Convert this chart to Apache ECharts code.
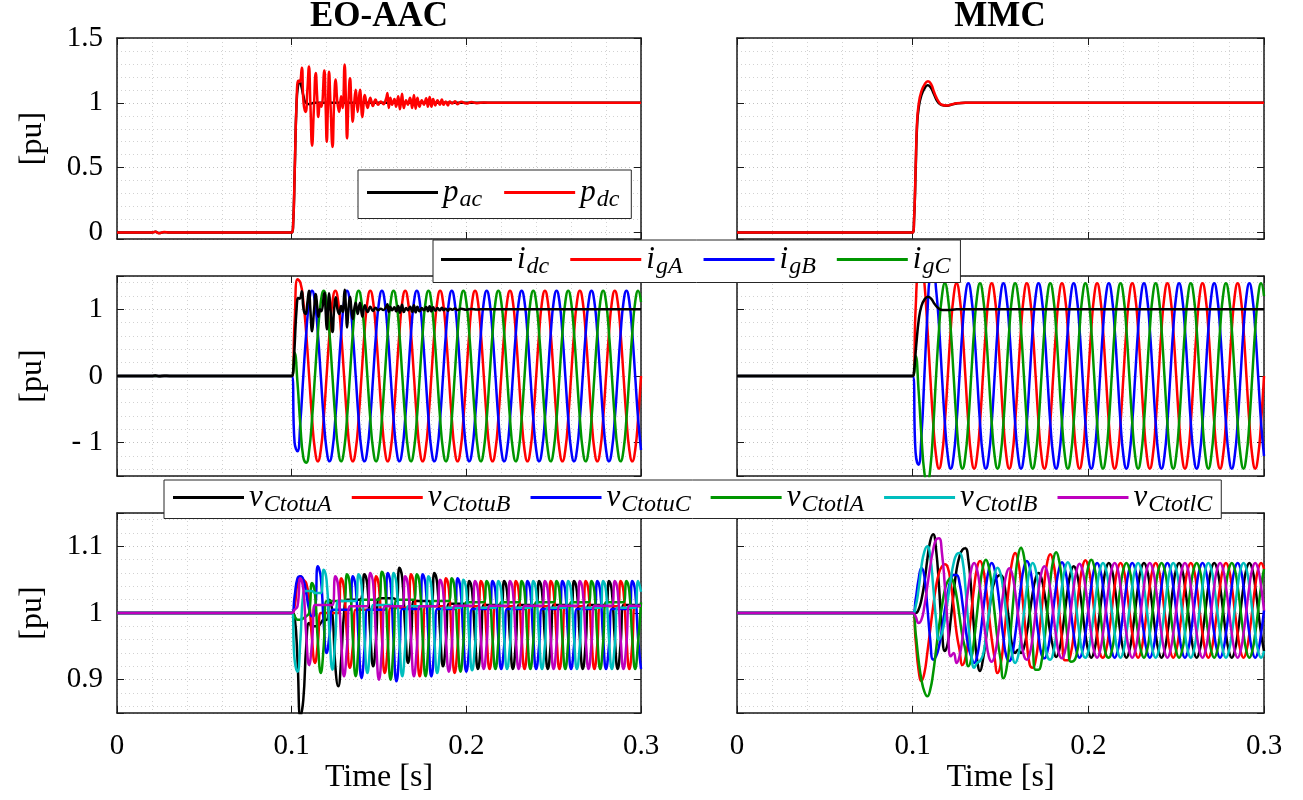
<!DOCTYPE html>
<html><head><meta charset="utf-8">
<script src="https://cdn.jsdelivr.net/npm/echarts@6/dist/echarts.min.js"></script>
<style>html,body{margin:0;padding:0;background:#fff}#c{width:1303px;height:800px}</style>
</head><body><div id="c"></div>
<script>
// ---------------- time grid (s) shared by the sampled traces ----------------
const T = [0,
0.1,0.10167,0.10333,0.105,0.10667,0.10833,
0.11,0.11167,0.11333,0.115,0.11667,0.11833,
0.12,0.12167,0.12333,0.125,0.12667,0.12833,
0.13,0.13167,0.13333,0.135,0.13667,0.13833,
0.14,0.14167,0.14333,0.145,0.14667,0.14833,
0.15,0.15167,0.15333,0.155,0.15667,0.15833,
0.16,0.16167,0.16333,0.165,0.16667,0.16833,
0.17,0.17167,0.17333,0.175,0.17667,0.17833,
0.18,0.18167,0.18333,0.185,0.18667,0.18833,
0.19,0.19167,0.19333,0.195,0.19667,0.19833,
0.2,0.20167,0.20333,0.205,0.20667,0.20833,
0.21,0.21167,0.21333,0.215,0.21667,0.21833,
0.22,0.22167,0.22333,0.225,0.22667,0.22833,
0.23,0.23167,0.23333,0.235,0.23667,0.23833,
0.24,0.24167,0.24333,0.245,0.24667,0.24833,
0.25,0.25167,0.25333,0.255,0.25667,0.25833,
0.26,0.26167,0.26333,0.265,0.26667,0.26833,
0.27,0.27167,0.27333,0.275,0.27667,0.27833,
0.28,0.28167,0.28333,0.285,0.28667,0.28833,
0.29,0.29167,0.29333,0.295,0.29667,0.29833,
0.3];

// ---------------- tick labels ----------------
const xTicks = [0, 0.1, 0.2, 0.3], xLabels = ['0', '0.1', '0.2', '0.3'];
const yTicksTop = [0, 0.5, 1, 1.5], yLabelsTop = ['0', '0.5', '1', '1.5'];
const yTicksMid = [-1, 0, 1], yLabelsMid = ['- 1', '0', '1'];
const yTicksBot = [0.9, 1, 1.1], yLabelsBot = ['0.9', '1', '1.1'];

// ---------------- row 1 : powers [t, pu] ----------------
const pacEO = [[0,0],[0.02,0],[0.022,0.005],[0.024,-0.004],[0.027,0.003],[0.03,0],[0.1,0],[0.1008,0.05],[0.1017,0.45],[0.1028,1.0],[0.1038,1.15],[0.1045,1.17],[0.1055,1.13],[0.1068,1.05],[0.108,1.0],[0.11,0.99],[0.113,1.0],[0.3,1.0]];
const pdcEO = [[0,0],[0.02,0],[0.022,0.006],[0.024,-0.005],[0.027,0.004],[0.03,0],[0.1,0],
[0.1008,0.05],[0.1017,0.45],[0.1028,1.0],[0.1038,1.17],[0.1046,1.16],[0.1058,1.27],[0.1068,1.0],[0.108,0.93],[0.109,1.1],[0.1099,1.28],[0.1107,1.0],[0.1117,0.67],[0.1127,0.95],[0.1138,1.23],[0.1146,1.05],[0.1153,0.89],[0.1162,1.0],[0.117,0.97],[0.1187,1.25],[0.1194,1.0],[0.1201,0.70],[0.1208,1.0],[0.1214,1.24],[0.1222,1.0],[0.1234,0.66],[0.1243,1.0],[0.1252,1.18],[0.1262,1.0],[0.1272,0.93],[0.1283,1.05],[0.1292,0.96],[0.1303,1.295],[0.1311,1.0],[0.1317,0.726],[0.1325,1.0],[0.1334,1.19],[0.1342,1.0],[0.135,0.855],[0.1358,1.0],[0.1367,1.10],[0.1378,0.93],[0.1391,1.10],[0.1405,0.89],[0.1419,1.06],[0.1435,0.96],[0.145,1.04],[0.1465,0.975],[0.148,1.025],[0.1495,0.985],[0.151,1.01],[0.1525,0.99],[0.154,1.03],[0.1548,1.075],[0.1556,0.96],[0.1565,1.04],[0.1575,0.985],[0.1588,1.03],[0.1598,0.97],[0.161,1.05],[0.162,0.95],[0.1632,1.07],[0.1642,0.96],[0.1655,1.02],[0.1665,0.985],[0.1678,1.04],[0.169,0.96],[0.17,1.06],[0.171,0.955],[0.172,1.04],[0.1732,0.97],[0.1745,1.02],[0.1757,0.985],[0.177,1.035],[0.178,0.97],[0.179,1.045],[0.18,0.97],[0.181,1.03],[0.1822,0.98],[0.1835,1.02],[0.1848,0.985],[0.186,1.025],[0.187,0.985],[0.1882,1.01],[0.1895,0.98],[0.1905,1.01],[0.192,0.995],[0.1935,1.012],[0.195,0.99],[0.197,1.008],[0.2,0.995],[0.203,1.006],[0.206,0.997],[0.21,1.003],[0.215,1.0],[0.3,1.0]];
const pacMMC = [[0,0],[0.1,0],[0.1008,0.1],[0.1017,0.48],[0.1025,0.82],[0.1035,0.97],[0.105,1.06],[0.1067,1.11],[0.1085,1.135],[0.1102,1.12],[0.112,1.07],[0.1135,1.025],[0.115,0.995],[0.1167,0.982],[0.119,0.977],[0.122,0.985],[0.125,0.995],[0.13,1.0],[0.3,1.0]];
const pdcMMC = [[0,0],[0.1,0],[0.1008,0.1],[0.1017,0.5],[0.1025,0.85],[0.1035,1.0],[0.105,1.09],[0.1067,1.14],[0.1087,1.167],[0.1105,1.145],[0.112,1.09],[0.1135,1.04],[0.115,1.005],[0.1167,0.985],[0.1194,0.979],[0.122,0.987],[0.125,0.996],[0.13,1.0],[0.3,1.0]];

// ---------------- row 2 : currents ----------------
const idcEO = pdcEO; // i_dc traces the same curve as p_dc in pu
const idcMMC = [[0,0],[0.1,0],[0.1008,0.08],[0.102,0.45],[0.1035,0.85],[0.105,1.05],[0.1068,1.15],[0.1087,1.19],[0.1105,1.16],[0.1125,1.08],[0.1145,1.02],[0.117,0.99],[0.12,0.99],[0.125,1.0],[0.3,1.0]];
const igA_EO = [0,
0,0.8,1.45,1.4,1.12,0.64,0,-0.64,-1.11,-1.28,-1.11,-0.64,
0,0.64,1.11,1.28,1.11,0.64,0,-0.64,-1.11,-1.28,-1.11,-0.64,
0,0.64,1.11,1.28,1.11,0.64,0,-0.64,-1.11,-1.28,-1.11,-0.64,
0,0.64,1.11,1.28,1.11,0.64,0,-0.64,-1.11,-1.28,-1.11,-0.64,
0,0.64,1.11,1.28,1.11,0.64,0,-0.64,-1.11,-1.28,-1.11,-0.64,
0,0.64,1.11,1.28,1.11,0.64,0,-0.64,-1.11,-1.28,-1.11,-0.64,
0,0.64,1.11,1.28,1.11,0.64,0,-0.64,-1.11,-1.28,-1.11,-0.64,
0,0.64,1.11,1.28,1.11,0.64,0,-0.64,-1.11,-1.28,-1.11,-0.64,
0,0.64,1.11,1.28,1.11,0.64,0,-0.64,-1.11,-1.28,-1.11,-0.64,
0,0.64,1.11,1.28,1.11,0.64,0,-0.64,-1.11,-1.28,-1.11,-0.64,
0];
const igB_EO = [0,
0,-1.0,-1.13,-0.68,0,0.64,1.11,1.28,1.11,0.64,0,-0.64,
-1.11,-1.28,-1.11,-0.64,0,0.64,1.11,1.28,1.11,0.64,0,-0.64,
-1.11,-1.28,-1.11,-0.64,0,0.64,1.11,1.28,1.11,0.64,0,-0.64,
-1.11,-1.28,-1.11,-0.64,0,0.64,1.11,1.28,1.11,0.64,0,-0.64,
-1.11,-1.28,-1.11,-0.64,0,0.64,1.11,1.28,1.11,0.64,0,-0.64,
-1.11,-1.28,-1.11,-0.64,0,0.64,1.11,1.28,1.11,0.64,0,-0.64,
-1.11,-1.28,-1.11,-0.64,0,0.64,1.11,1.28,1.11,0.64,0,-0.64,
-1.11,-1.28,-1.11,-0.64,0,0.64,1.11,1.28,1.11,0.64,0,-0.64,
-1.11,-1.28,-1.11,-0.64,0,0.64,1.11,1.28,1.11,0.64,0,-0.64,
-1.11,-1.28,-1.11,-0.64,0,0.64,1.11,1.28,1.11,0.64,0,-0.64,
-1.11];
const igC_EO = [0,
0,0.35,-0.1,-0.75,-1.22,-1.3,-1.12,-0.64,0,0.64,1.11,1.28,
1.11,0.64,0,-0.64,-1.11,-1.28,-1.11,-0.64,0,0.64,1.11,1.28,
1.11,0.64,0,-0.64,-1.11,-1.28,-1.11,-0.64,0,0.64,1.11,1.28,
1.11,0.64,0,-0.64,-1.11,-1.28,-1.11,-0.64,0,0.64,1.11,1.28,
1.11,0.64,0,-0.64,-1.11,-1.28,-1.11,-0.64,0,0.64,1.11,1.28,
1.11,0.64,0,-0.64,-1.11,-1.28,-1.11,-0.64,0,0.64,1.11,1.28,
1.11,0.64,0,-0.64,-1.11,-1.28,-1.11,-0.64,0,0.64,1.11,1.28,
1.11,0.64,0,-0.64,-1.11,-1.28,-1.11,-0.64,0,0.64,1.11,1.28,
1.11,0.64,0,-0.64,-1.11,-1.28,-1.11,-0.64,0,0.64,1.11,1.28,
1.11,0.64,0,-0.64,-1.11,-1.28,-1.11,-0.64,0,0.64,1.11,1.28,
1.11];
const igA_MMC = [0,
0,1.0,1.7,1.75,1.4,0.75,0,-0.7,-1.2,-1.39,-1.2,-0.7,
0,0.7,1.2,1.39,1.2,0.7,0,-0.7,-1.2,-1.39,-1.2,-0.7,
0,0.7,1.2,1.39,1.2,0.7,0,-0.7,-1.2,-1.39,-1.2,-0.7,
0,0.7,1.2,1.39,1.2,0.7,0,-0.7,-1.2,-1.39,-1.2,-0.7,
0,0.7,1.2,1.39,1.2,0.7,0,-0.7,-1.2,-1.39,-1.2,-0.7,
0,0.7,1.2,1.39,1.2,0.7,0,-0.7,-1.2,-1.39,-1.2,-0.7,
0,0.7,1.2,1.39,1.2,0.7,0,-0.7,-1.2,-1.39,-1.2,-0.7,
0,0.7,1.2,1.39,1.2,0.7,0,-0.7,-1.2,-1.39,-1.2,-0.7,
0,0.7,1.2,1.39,1.2,0.7,0,-0.7,-1.2,-1.39,-1.2,-0.7,
0,0.7,1.2,1.39,1.2,0.7,0,-0.7,-1.2,-1.39,-1.2,-0.7,
0];
const igB_MMC = [0,
0,-1.15,-1.33,-0.9,0,0.9,1.55,1.6,1.3,0.75,0,-0.7,
-1.2,-1.39,-1.2,-0.7,0,0.7,1.2,1.39,1.2,0.7,0,-0.7,
-1.2,-1.39,-1.2,-0.7,0,0.7,1.2,1.39,1.2,0.7,0,-0.7,
-1.2,-1.39,-1.2,-0.7,0,0.7,1.2,1.39,1.2,0.7,0,-0.7,
-1.2,-1.39,-1.2,-0.7,0,0.7,1.2,1.39,1.2,0.7,0,-0.7,
-1.2,-1.39,-1.2,-0.7,0,0.7,1.2,1.39,1.2,0.7,0,-0.7,
-1.2,-1.39,-1.2,-0.7,0,0.7,1.2,1.39,1.2,0.7,0,-0.7,
-1.2,-1.39,-1.2,-0.7,0,0.7,1.2,1.39,1.2,0.7,0,-0.7,
-1.2,-1.39,-1.2,-0.7,0,0.7,1.2,1.39,1.2,0.7,0,-0.7,
-1.2,-1.39,-1.2,-0.7,0,0.7,1.2,1.39,1.2,0.7,0,-0.7,
-1.2];
const igC_MMC = [0,
0,0.3,-0.2,-0.9,-1.45,-1.62,-1.4,-0.8,0,0.7,1.2,1.39,
1.2,0.7,0,-0.7,-1.2,-1.39,-1.2,-0.7,0,0.7,1.2,1.39,
1.2,0.7,0,-0.7,-1.2,-1.39,-1.2,-0.7,0,0.7,1.2,1.39,
1.2,0.7,0,-0.7,-1.2,-1.39,-1.2,-0.7,0,0.7,1.2,1.39,
1.2,0.7,0,-0.7,-1.2,-1.39,-1.2,-0.7,0,0.7,1.2,1.39,
1.2,0.7,0,-0.7,-1.2,-1.39,-1.2,-0.7,0,0.7,1.2,1.39,
1.2,0.7,0,-0.7,-1.2,-1.39,-1.2,-0.7,0,0.7,1.2,1.39,
1.2,0.7,0,-0.7,-1.2,-1.39,-1.2,-0.7,0,0.7,1.2,1.39,
1.2,0.7,0,-0.7,-1.2,-1.39,-1.2,-0.7,0,0.7,1.2,1.39,
1.2,0.7,0,-0.7,-1.2,-1.39,-1.2,-0.7,0,0.7,1.2,1.39,
1.2];

// ---------------- row 3 : arm capacitor voltages, EO-AAC ----------------
const vuA_EO = [1.0,
1.0,0.995,0.93,0.845,0.87,0.95,0.985,0.98,0.98,0.98,0.985,0.99,
0.99,1.02,1.0,0.92,0.89,0.93,1.0,1.02,1.02,1.02,1.02,1.02,
1.022,1.058,1.042,0.969,0.92,0.961,1.022,1.022,1.022,1.022,1.022,1.022,
1.018,1.068,1.052,0.977,0.925,0.962,1.018,1.018,1.018,1.018,1.018,1.018,
1.014,1.06,1.044,0.97,0.92,0.957,1.014,1.014,1.014,1.014,1.014,1.014,
1.012,1.048,1.032,0.962,0.916,0.954,1.012,1.012,1.012,1.012,1.012,1.012,
1.012,1.048,1.032,0.962,0.916,0.954,1.012,1.012,1.012,1.012,1.012,1.012,
1.012,1.048,1.032,0.962,0.916,0.954,1.012,1.012,1.012,1.012,1.012,1.012,
1.012,1.048,1.032,0.962,0.916,0.954,1.012,1.012,1.012,1.012,1.012,1.012,
1.012,1.048,1.032,0.962,0.916,0.954,1.012,1.012,1.012,1.012,1.012,1.012,
1.012];
const vuB_EO = [1.0,
1.0,1.01,1.045,1.055,
1.05,1.045,1.02,0.96,0.925,0.955,1.0,1.0,1.0,1.0,1.0,1.0,
1.0,1.052,1.036,0.965,0.918,0.949,1.005,1.005,1.005,1.005,1.005,1.005,
1.005,1.055,1.039,0.963,0.91,0.948,1.008,1.008,1.008,1.008,1.008,1.008,
1.008,1.058,1.042,0.962,0.905,0.947,1.01,1.01,1.01,1.01,1.01,1.01,
1.01,1.052,1.036,0.961,0.91,0.95,1.01,1.01,1.01,1.01,1.01,1.01,
1.01,1.048,1.032,0.962,0.916,0.953,1.01,1.01,1.01,1.01,1.01,1.01,
1.01,1.048,1.032,0.962,0.916,0.953,1.01,1.01,1.01,1.01,1.01,1.01,
1.01,1.048,1.032,0.962,0.916,0.953,1.01,1.01,1.01,1.01,1.01,1.01,
1.01,1.048,1.032,0.962,0.916,0.953,1.01,1.01,1.01,1.01,1.01,1.01,
1.01,1.048,1.032,0.962,0.916,0.953,1.01,1.01,1.01];
const vuC_EO = [1.0,
1.0,1.025,1.052,1.055,1.05,1.03,1.005,0.995,
1.0,1.07,1.054,0.985,0.94,0.967,1.005,1.005,1.005,1.005,1.005,1.005,
1.005,1.055,1.039,0.959,0.9025,0.944,1.005,1.005,1.005,1.005,1.005,1.005,
1.005,1.06,1.044,0.959,0.8975,0.941,1.006,1.006,1.006,1.006,1.006,1.006,
1.006,1.058,1.042,0.962,0.905,0.946,1.006,1.006,1.006,1.006,1.006,1.006,
1.006,1.052,1.036,0.962,0.912,0.949,1.006,1.006,1.006,1.006,1.006,1.006,
1.006,1.048,1.032,0.962,0.916,0.951,1.006,1.006,1.006,1.006,1.006,1.006,
1.006,1.048,1.032,0.962,0.916,0.951,1.006,1.006,1.006,1.006,1.006,1.006,
1.006,1.048,1.032,0.962,0.916,0.951,1.006,1.006,1.006,1.006,1.006,1.006,
1.006,1.048,1.032,0.962,0.916,0.951,1.006,1.006,1.006,1.006,1.006,1.006,
1.006,1.048,1.032,0.962,0.916];
const vlA_EO = [1.0,
1.0,0.995,0.99,0.99,0.992,0.995,
1.0,1.045,1.029,0.957,0.91,0.95,1.018,1.018,1.018,1.018,1.018,1.018,
1.018,1.058,1.042,0.962,0.905,0.952,1.02,1.02,1.02,1.02,1.02,1.02,
1.02,1.062,1.046,0.961,0.9,0.95,1.02,1.02,1.02,1.02,1.02,1.02,
1.02,1.058,1.042,0.962,0.905,0.952,1.018,1.018,1.018,1.018,1.018,1.018,
1.018,1.052,1.036,0.962,0.912,0.955,1.016,1.016,1.016,1.016,1.016,1.016,
1.016,1.048,1.032,0.962,0.916,0.956,1.016,1.016,1.016,1.016,1.016,1.016,
1.016,1.048,1.032,0.962,0.916,0.956,1.016,1.016,1.016,1.016,1.016,1.016,
1.016,1.048,1.032,0.962,0.916,0.956,1.016,1.016,1.016,1.016,1.016,1.016,
1.016,1.048,1.032,0.962,0.916,0.956,1.016,1.016,1.016,1.016,1.016,1.016,
1.016,1.048,1.032,0.962,0.916,0.956,1.016];
const vlB_EO = [1.0,
1.0,0.93,0.912,0.96,1.03,1.033,1.033,1.033,1.03,1.03,
1.03,1.065,1.049,0.97,0.915,0.962,1.018,1.018,1.018,1.018,1.018,1.018,
1.018,1.058,1.042,0.964,0.91,0.954,1.012,1.012,1.012,1.012,1.012,1.012,
1.012,1.06,1.044,0.963,0.905,0.949,1.01,1.01,1.01,1.01,1.01,1.01,
1.01,1.055,1.039,0.963,0.91,0.95,1.008,1.008,1.008,1.008,1.008,1.008,
1.008,1.05,1.034,0.962,0.914,0.951,1.008,1.008,1.008,1.008,1.008,1.008,
1.008,1.048,1.032,0.962,0.916,0.952,1.008,1.008,1.008,1.008,1.008,1.008,
1.008,1.048,1.032,0.962,0.916,0.952,1.008,1.008,1.008,1.008,1.008,1.008,
1.008,1.048,1.032,0.962,0.916,0.952,1.008,1.008,1.008,1.008,1.008,1.008,
1.008,1.048,1.032,0.962,0.916,0.952,1.008,1.008,1.008,1.008,1.008,1.008,
1.008,1.048,1.032];
const vlC_EO = [1.0,
1.0,1.005,
1.01,1.052,1.036,0.967,0.922,0.956,1.012,1.012,1.012,1.012,1.012,1.012,
1.012,1.055,1.039,0.96,0.905,0.949,1.01,1.01,1.01,1.01,1.01,1.01,
1.01,1.06,1.044,0.96,0.9,0.945,1.01,1.01,1.01,1.01,1.01,1.01,
1.01,1.055,1.039,0.96,0.905,0.948,1.01,1.01,1.01,1.01,1.01,1.01,
1.011,1.05,1.034,0.961,0.912,0.951,1.011,1.011,1.011,1.011,1.011,1.011,
1.011,1.048,1.032,0.962,0.916,0.954,1.011,1.011,1.011,1.011,1.011,1.011,
1.011,1.048,1.032,0.962,0.916,0.954,1.011,1.011,1.011,1.011,1.011,1.011,
1.011,1.048,1.032,0.962,0.916,0.954,1.011,1.011,1.011,1.011,1.011,1.011,
1.011,1.048,1.032,0.962,0.916,0.954,1.011,1.011,1.011,1.011,1.011,1.011,
1.011,1.048,1.032,0.962,0.916,0.954,1.011,1.011,1.011,1.011,1.011];

// ---------------- row 3 : arm capacitor voltages, MMC ----------------
const vuA_MMC = [1.0,
1.0,
1.0,1.005,1.02,1.045,1.08,1.108,1.118,1.095,1.04,0.975,0.943,0.955,
0.99,1.03,1.065,1.085,1.095,1.097,1.08,1.035,0.975,0.93,0.913,0.93,
0.96,0.995,1.03,1.048,1.055,1.057,1.05,1.02,0.985,0.95,0.94,0.945,
0.94,0.948,0.97,1.0,1.03,1.052,1.06,1.052,1.03,1.0,0.97,0.948,
0.934,0.943,0.968,1.002,1.036,1.061,1.07,1.061,1.036,1.002,0.968,0.943,
0.933,0.943,0.969,1.004,1.04,1.066,1.075,1.066,1.04,1.004,0.969,0.943,
0.933,0.943,0.969,1.004,1.04,1.066,1.075,1.066,1.04,1.004,0.969,0.943,
0.933,0.943,0.969,1.004,1.04,1.066,1.075,1.066,1.04,1.004,0.969,0.943,
0.933,0.943,0.969,1.004,1.04,1.066,1.075,1.066,1.04,1.004,0.969,0.943,
0.933,0.943,0.969,1.004,1.04,1.066,1.075,1.066,1.04,1.004,0.969,0.943];
const vuB_MMC = [1.0,
1.0,0.96,0.915,0.898,0.91,
0.94,0.975,1.01,1.04,1.06,1.07,1.073,1.068,1.045,1.01,0.97,0.945,
0.922,0.932,0.961,1.0,1.039,1.068,1.078,1.068,1.039,1.0,0.961,0.932,
0.91,0.922,0.955,1.0,1.045,1.078,1.09,1.078,1.045,1.0,0.955,0.922,
0.918,0.929,0.961,1.003,1.046,1.077,1.088,1.077,1.046,1.003,0.961,0.929,
0.929,0.939,0.967,1.004,1.042,1.069,1.079,1.069,1.042,1.004,0.967,0.939,
0.933,0.943,0.969,1.004,1.04,1.066,1.075,1.066,1.04,1.004,0.969,0.943,
0.933,0.943,0.969,1.004,1.04,1.066,1.075,1.066,1.04,1.004,0.969,0.943,
0.933,0.943,0.969,1.004,1.04,1.066,1.075,1.066,1.04,1.004,0.969,0.943,
0.933,0.943,0.969,1.004,1.04,1.066,1.075,1.066,1.04,1.004,0.969,0.943,
0.933,0.943,0.969,1.004,1.04,1.066,1.075,1.066];
const vuC_MMC = [1.0,
1.0,1.02,1.05,1.0675,1.055,1.01,0.96,0.93,0.935,
0.95,0.975,1.005,1.03,1.05,1.057,1.057,1.045,1.015,0.98,0.95,0.935,
0.925,0.935,0.9625,1.0,1.0375,1.065,1.075,1.065,1.0375,1.0,0.9625,0.935,
0.928,0.938,0.966,1.003,1.041,1.068,1.078,1.068,1.041,1.003,0.966,0.938,
0.932,0.942,0.968,1.004,1.04,1.066,1.076,1.066,1.04,1.004,0.968,0.942,
0.933,0.943,0.969,1.004,1.04,1.066,1.075,1.066,1.04,1.004,0.969,0.943,
0.933,0.943,0.969,1.004,1.04,1.066,1.075,1.066,1.04,1.004,0.969,0.943,
0.933,0.943,0.969,1.004,1.04,1.066,1.075,1.066,1.04,1.004,0.969,0.943,
0.933,0.943,0.969,1.004,1.04,1.066,1.075,1.066,1.04,1.004,0.969,0.943,
0.933,0.943,0.969,1.004,1.04,1.066,1.075,1.066,1.04,1.004,0.969,0.943,
0.933,0.943,0.969,1.004];
const vlA_MMC = [1.0,
1.0,0.97,0.93,0.9,0.882,0.875,0.885,
0.91,0.945,0.98,1.01,1.035,1.048,1.052,1.045,1.025,0.995,0.965,0.945,
0.92,0.931,0.96,1.0,1.04,1.069,1.08,1.069,1.04,1.0,0.96,0.931,
0.902,0.915,0.951,1.0,1.049,1.085,1.098,1.085,1.049,1.0,0.951,0.915,
0.915,0.927,0.959,1.003,1.047,1.079,1.091,1.079,1.047,1.003,0.959,0.927,
0.928,0.938,0.966,1.004,1.042,1.07,1.08,1.07,1.042,1.004,0.966,0.938,
0.933,0.943,0.969,1.004,1.04,1.066,1.075,1.066,1.04,1.004,0.969,0.943,
0.933,0.943,0.969,1.004,1.04,1.066,1.075,1.066,1.04,1.004,0.969,0.943,
0.933,0.943,0.969,1.004,1.04,1.066,1.075,1.066,1.04,1.004,0.969,0.943,
0.933,0.943,0.969,1.004,1.04,1.066,1.075,1.066,1.04,1.004,0.969,0.943,
0.933,0.943,0.969,1.004,1.04,1.066];
const vlB_MMC = [1.0,
1.0,1.01,1.035,1.07,1.092,1.1,1.085,1.04,0.99,0.96,0.97,
0.99,1.02,1.05,1.075,1.088,1.09,1.08,1.04,0.985,0.94,0.918,0.925,
0.928,0.937,0.963,0.998,1.033,1.059,1.068,1.059,1.033,0.998,0.963,0.937,
0.925,0.935,0.9625,1.0,1.0375,1.065,1.075,1.065,1.0375,1.0,0.9625,0.935,
0.93,0.94,0.967,1.003,1.04,1.066,1.076,1.066,1.04,1.003,0.967,0.94,
0.933,0.943,0.969,1.004,1.04,1.066,1.075,1.066,1.04,1.004,0.969,0.943,
0.933,0.943,0.969,1.004,1.04,1.066,1.075,1.066,1.04,1.004,0.969,0.943,
0.933,0.943,0.969,1.004,1.04,1.066,1.075,1.066,1.04,1.004,0.969,0.943,
0.933,0.943,0.969,1.004,1.04,1.066,1.075,1.066,1.04,1.004,0.969,0.943,
0.933,0.943,0.969,1.004,1.04,1.066,1.075,1.066,1.04,1.004,0.969,0.943,
0.933,0.943];
const vlC_MMC = [1.0,
1.0,0.995,0.985,
0.99,1.01,1.04,1.07,1.095,1.11,1.112,1.09,1.04,0.98,0.935,0.94,
0.925,0.935,0.9625,1.0,1.0375,1.065,1.075,1.065,1.0375,1.0,0.9625,0.935,
0.927,0.936,0.962,0.997,1.032,1.058,1.067,1.058,1.032,0.997,0.962,0.936,
0.93,0.939,0.965,1.0,1.035,1.061,1.07,1.061,1.035,1.0,0.965,0.939,
0.932,0.942,0.968,1.003,1.039,1.064,1.074,1.064,1.039,1.003,0.968,0.942,
0.933,0.943,0.969,1.004,1.04,1.066,1.075,1.066,1.04,1.004,0.969,0.943,
0.933,0.943,0.969,1.004,1.04,1.066,1.075,1.066,1.04,1.004,0.969,0.943,
0.933,0.943,0.969,1.004,1.04,1.066,1.075,1.066,1.04,1.004,0.969,0.943,
0.933,0.943,0.969,1.004,1.04,1.066,1.075,1.066,1.04,1.004,0.969,0.943,
0.933,0.943,0.969,1.004,1.04,1.066,1.075,1.066,1.04,1.004];

// ---------------- build ----------------
const FONT = "'Liberation Serif','Times New Roman',serif";
const AX = '#1a1a1a';
const K = '#000000', R = '#ff0000', B = '#0000ff', G = '#009600', C = '#00bebe', M = '#be00be';
const problems = [];
function zip(name, vals) {
  if (vals.length !== T.length) problems.push(name + ':' + vals.length);
  return T.map((t, i) => [t, vals[i]]);
}
function fmt(ticks, labels) {
  return v => { for (let i = 0; i < ticks.length; i++) if (Math.abs(v - ticks[i]) < 1e-6) return labels[i]; return ''; };
}
const GRIDS = [
  {left:117, top:38, width:524, height:201}, {left:737, top:38, width:527, height:201},
  {left:117, top:276, width:524, height:200}, {left:737, top:276, width:527, height:200},
  {left:117, top:513, width:524, height:200}, {left:737, top:513, width:527, height:200}];
const ROWS = [
  {min:-0.05, max:1.5, ticks:yTicksTop, labels:yLabelsTop},
  {min:-1.5, max:1.5, ticks:yTicksMid, labels:yLabelsMid},
  {min:0.85, max:1.15, ticks:yTicksBot, labels:yLabelsBot}];
const gridLine = {show:true, lineStyle:{color:'#c2c2c2', width:1, type:[1,3]}};
const minorLine = {show:true, lineStyle:{color:'#d2d2d2', width:1, type:[1,3]}};
const axLine = {show:true, onZero:false, lineStyle:{color:AX, width:1.5}};
const axTick = {show:true, inside:true, length:7, lineStyle:{color:AX, width:1}};
const labelStyle = {fontFamily:FONT, fontSize:29, color:'#000'};
const nameStyle = {fontFamily:FONT, fontSize:32, color:'#000'};

const xAxis = [], yAxis = [];
GRIDS.forEach((g, gi) => {
  const row = Math.floor(gi / 2), col = gi % 2, r = ROWS[row];
  xAxis.push({type:'value', gridIndex:gi, min:0, max:0.3, interval:0.1, position:'bottom',
    axisLine:axLine, axisTick:axTick, minorTick:{show:false, splitNumber:5},
    splitLine:gridLine, minorSplitLine:minorLine,
    axisLabel:Object.assign({show:row === 2, margin:19, formatter:fmt(xTicks, xLabels)}, labelStyle),
    name: row === 2 ? 'Time [s]' : '', nameLocation:'middle', nameGap:47, nameTextStyle:nameStyle});
  xAxis.push({type:'value', gridIndex:gi, min:0, max:0.3, interval:0.1, position:'top',
    axisLine:axLine, axisTick:axTick, axisLabel:{show:false}, splitLine:{show:false}});
  yAxis.push({type:'value', gridIndex:gi, min:r.min, max:r.max, splitNumber:3, position:'left',
    axisLine:axLine, axisTick:axTick, minorTick:{show:false, splitNumber:5},
    splitLine:gridLine, minorSplitLine:minorLine,
    axisLabel:Object.assign({show:col === 0, margin:14, formatter:fmt(r.ticks, r.labels)}, labelStyle),
    name: col === 0 ? '[pu]' : '', nameLocation:'middle', nameGap:68, nameTextStyle:nameStyle});
  yAxis.push({type:'value', gridIndex:gi, min:r.min, max:r.max, splitNumber:3, position:'right',
    axisLine:axLine, axisTick:axTick, axisLabel:{show:false}, splitLine:{show:false}});
});

function S(name, gi, data, color) {
  return {type:'line', name, xAxisIndex:2 * gi, yAxisIndex:2 * gi, data, symbol:'none', smooth:true,
    lineStyle:{color, width:2.5}, itemStyle:{color}, silent:true, animation:false, emphasis:{disabled:true}};
}
const series = [
  S('pac', 0, pacEO, K), S('pdc', 0, pdcEO, R),
  S('pac', 1, pacMMC, K), S('pdc', 1, pdcMMC, R),
  S('igA', 2, zip('igA_EO', igA_EO), R), S('igB', 2, zip('igB_EO', igB_EO), B), S('igC', 2, zip('igC_EO', igC_EO), G), S('idc', 2, idcEO, K),
  S('igA', 3, zip('igA_MMC', igA_MMC), R), S('igB', 3, zip('igB_MMC', igB_MMC), B), S('igC', 3, zip('igC_MMC', igC_MMC), G), S('idc', 3, idcMMC, K),
  S('vCtotuA', 4, zip('vuA_EO', vuA_EO), K), S('vCtotuB', 4, zip('vuB_EO', vuB_EO), R), S('vCtotuC', 4, zip('vuC_EO', vuC_EO), B),
  S('vCtotlA', 4, zip('vlA_EO', vlA_EO), G), S('vCtotlB', 4, zip('vlB_EO', vlB_EO), C), S('vCtotlC', 4, zip('vlC_EO', vlC_EO), M),
  S('vCtotuA', 5, zip('vuA_MMC', vuA_MMC), K), S('vCtotuB', 5, zip('vuB_MMC', vuB_MMC), R), S('vCtotuC', 5, zip('vuC_MMC', vuC_MMC), B),
  S('vCtotlA', 5, zip('vlA_MMC', vlA_MMC), G), S('vCtotlB', 5, zip('vlB_MMC', vlB_MMC), C), S('vCtotlC', 5, zip('vlC_MMC', vlC_MMC), M)
];

const LEG = {pac:'{m|p}{s|ac}', pdc:'{m|p}{s|dc}', idc:'{m|i}{s|dc}', igA:'{m|i}{s|gA}', igB:'{m|i}{s|gB}', igC:'{m|i}{s|gC}',
  vCtotuA:'{m|v}{s|CtotuA}', vCtotuB:'{m|v}{s|CtotuB}', vCtotuC:'{m|v}{s|CtotuC}',
  vCtotlA:'{m|v}{s|CtotlA}', vCtotlB:'{m|v}{s|CtotlB}', vCtotlC:'{m|v}{s|CtotlC}'};
const RICH = {
  m:{fontFamily:FONT, fontStyle:'italic', fontSize:31, color:'#000'},
  s:{fontFamily:FONT, fontStyle:'italic', fontSize:24, color:'#000', padding:[14, 0, 0, 1]}};
function L(data, left, top, itemGap, padding) {
  return {data, left, top, orient:'horizontal', icon:'rect', itemWidth:71, itemHeight:3, itemGap, padding,
    backgroundColor:'#fff', borderColor:'#262626', borderWidth:1, borderRadius:0, selectedMode:false, z:10,
    formatter:n => LEG[n], textStyle:{fontFamily:FONT, fontSize:30, color:'#000', rich:RICH}};
}
const legend = [
  L(['pac', 'pdc'], 358, 170, 22, [7, 12, 7, 9]),
  L(['idc', 'igA', 'igB', 'igC'], 433, 240, 21, [4, 10, 4, 8]),
  L(['vCtotuA', 'vCtotuB', 'vCtotuC', 'vCtotlA', 'vCtotlB', 'vCtotlC'], 164, 480, 20, [2, 9, 2, 9])
];

const graphic = [
  {type:'text', x:379, y:17, style:{text:'EO-AAC', font:'bold 35px ' + FONT, fill:'#000', align:'center', verticalAlign:'middle', textAlign:'center', textVerticalAlign:'middle'}},
  {type:'text', x:1000, y:17, style:{text:'MMC', font:'bold 35px ' + FONT, fill:'#000', align:'center', verticalAlign:'middle', textAlign:'center', textVerticalAlign:'middle'}}
];
if (problems.length) graphic.push({type:'text', x:10, y:790, style:{text:'LEN ' + problems.join(' '), fill:'#f0f', font:'12px sans-serif'}});

const chart = echarts.init(document.getElementById('c'));
chart.setOption({backgroundColor:'#fff', animation:false, textStyle:{fontFamily:FONT},
  grid:GRIDS, xAxis, yAxis, series, legend, graphic});
</script></body></html>
